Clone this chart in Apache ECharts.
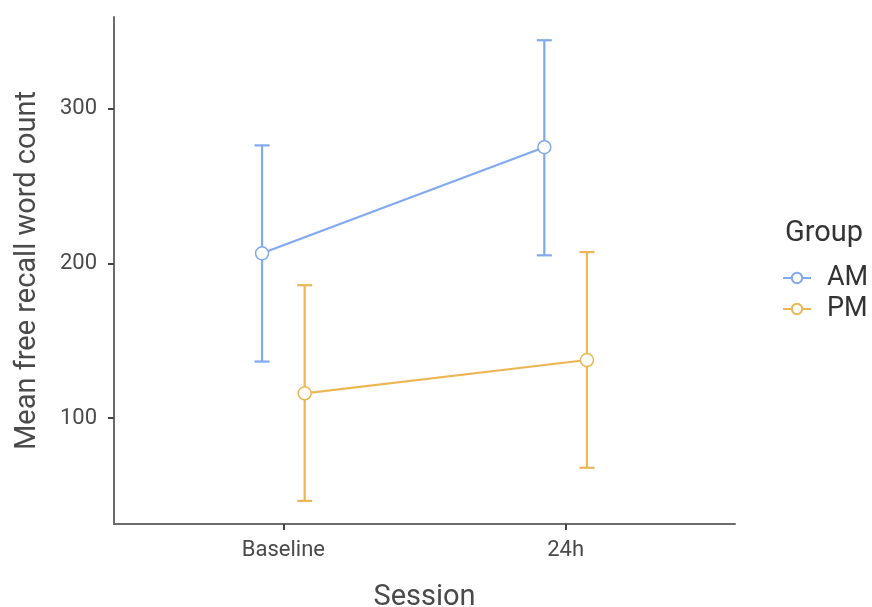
<!DOCTYPE html>
<html>
<head>
<meta charset="utf-8">
<style>
  html, body { margin: 0; padding: 0; background: #fff; }
  #chart { width: 872px; height: 607px; }
</style>
<script src="https://cdn.jsdelivr.net/npm/echarts@6/dist/echarts.min.js"></script>
</head>
<body>
<div id="chart"></div>
<script>
// Sessions on the x axis (positions 1 and 2)
const sessions = ['Baseline', '24h'];
const groups = ['AM', 'PM'];
// Group means per session
const amMean = [206.5, 275.0];
const pmMean = [116.1, 137.6];
// Error-bar bounds per session
const amLow = [136.6, 205.2];
const amHigh = [276.2, 344.1];
const pmLow = [46.6, 68.0];
const pmHigh = [185.9, 207.3];
// Y tick values
const yTicks = [100, 200, 300];

const colors = { AM: '#80A9EF', PM: '#ECB655' };
const dodge = 0.0755;
const font = 'Roboto, "Liberation Sans", sans-serif';
const textColor = '#4a4a4a';

function pos(i, g) { return i + 1 + (g === 'AM' ? -dodge : dodge); }

function pointData(mean, g) { return mean.map((v, i) => [pos(i, g), v]); }
function barData(low, high, g) { return low.map((v, i) => [pos(i, g), v, high[i]]); }

function errorBars(name, low, high) {
  return {
    type: 'custom',
    name: name,
    z: 2,
    itemStyle: { color: colors[name] },
    data: barData(low, high, name),
    renderItem: function (params, api) {
      const x = api.value(0);
      const lo = api.coord([x, api.value(1)]);
      const hi = api.coord([x, api.value(2)]);
      const half = 7.5;
      const style = { stroke: colors[name], lineWidth: 2.2, fill: null };
      return {
        type: 'group',
        children: [
          { type: 'line', shape: { x1: lo[0], y1: lo[1], x2: hi[0], y2: hi[1] }, style: style },
          { type: 'line', shape: { x1: lo[0] - half, y1: lo[1], x2: lo[0] + half, y2: lo[1] }, style: style },
          { type: 'line', shape: { x1: hi[0] - half, y1: hi[1], x2: hi[0] + half, y2: hi[1] }, style: style }
        ]
      };
    }
  };
}

function meanLine(name, mean) {
  return {
    type: 'line',
    name: name,
    z: 3,
    data: pointData(mean, name),
    symbol: 'circle',
    symbolSize: 13,
    itemStyle: { color: '#fff', borderColor: colors[name], borderWidth: 1.5 },
    lineStyle: { color: colors[name], width: 2.2 },
    emphasis: { disabled: true }
  };
}

const chart = echarts.init(document.getElementById('chart'), null, { renderer: 'canvas' });
chart.setOption({
  animation: false,
  backgroundColor: '#fff',
  grid: { left: 114, right: 137, top: 17, bottom: 83, outerBoundsMode: 'none', containLabel: false },
  xAxis: {
    type: 'value',
    min: 0.4,
    max: 2.6,
    name: 'Session',
    nameLocation: 'middle',
    nameGap: 59,
    nameTextStyle: { fontFamily: font, fontSize: 29, color: textColor },
    axisLine: { show: true, onZero: false, lineStyle: { color: '#6b6b6b', width: 2 } },
    axisTick: { show: true, length: 6, customValues: [1, 2], lineStyle: { color: '#444', width: 2 } },
    axisLabel: {
      customValues: [1, 2],
      formatter: v => sessions[Math.round(v) - 1] || '',
      fontFamily: font, fontSize: 22, color: textColor, margin: 15
    },
    splitLine: { show: false }
  },
  yAxis: {
    type: 'value',
    min: 31.7,
    max: 359.1,
    name: 'Mean free recall word count',
    nameLocation: 'middle',
    nameGap: 72,
    nameTextStyle: { fontFamily: font, fontSize: 29, color: textColor },
    axisLine: { show: true, onZero: false, lineStyle: { color: '#6b6b6b', width: 2 } },
    axisTick: { show: true, length: 6, customValues: yTicks, lineStyle: { color: '#444', width: 2 } },
    axisLabel: {
      customValues: yTicks,
      fontFamily: font, fontSize: 22, color: textColor, margin: 17
    },
    splitLine: { show: false }
  },
  legend: {
    data: groups,
    orient: 'vertical',
    left: 782,
    top: 264,
    padding: 0,
    itemWidth: 28,
    itemHeight: 13,
    itemGap: 3,
    textStyle: { fontFamily: font, fontSize: 27, color: '#333', lineHeight: 28, padding: [0, 0, 0, 11] }
  },
  graphic: [{
    type: 'text',
    left: 785,
    top: 219,
    style: { text: 'Group', font: '29px ' + font, fill: '#333' }
  }],
  series: [
    meanLine('AM', amMean),
    meanLine('PM', pmMean),
    errorBars('AM', amLow, amHigh),
    errorBars('PM', pmLow, pmHigh)
  ]
});
</script>
</body>
</html>
